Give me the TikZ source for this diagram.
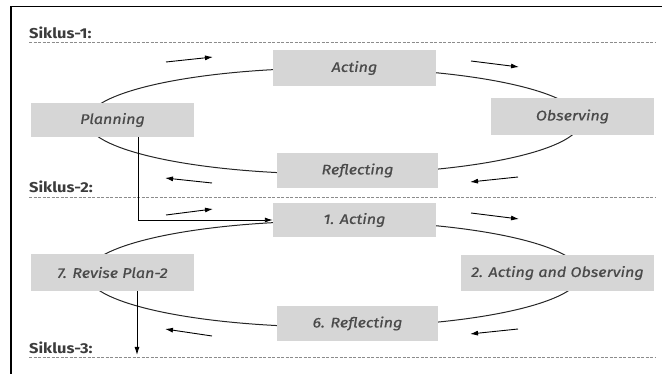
\documentclass[tikz,border=0pt]{standalone}
\usepackage{fontspec}
\setmainfont{Fira Sans}
\newfontfamily\boxfont{Fira Sans}[FakeStretch=1.15, ItalicFeatures={FakeBold=0.7}]
\usetikzlibrary{arrows.meta,calc}
\definecolor{boxgray}{HTML}{D6D6D6}
\definecolor{txtgray}{HTML}{4A4A4A}
\definecolor{labgray}{HTML}{3C3C3C}
\definecolor{dashgray}{HTML}{8C8C8C}
\tikzset{
  box/.style={fill=boxgray, inner sep=0pt, text=txtgray, font=\boxfont\itshape\fontsize{14}{16}\selectfont},
  cyc/.style={line width=1pt, draw=black!85},
  flow/.style={line width=0.9pt, -{Latex[length=8pt,width=5pt]}},
  sep/.style={draw=dashgray, line width=0.8pt, dash pattern=on 3pt off 1.5pt},
  lab/.style={anchor=base west, text=labgray, font=\boxfont\bfseries\fontsize{14.3}{16}\selectfont, inner sep=0pt},
  frame/.style={line width=1.8pt, draw=black}
}
\begin{document}
\begin{tikzpicture}[x=1pt,y=-1pt]
\useasboundingbox (0,0) rectangle (662,374);
% frame
\coordinate (fa) at (11,374);
\coordinate (fb) at (11,6.5);
\coordinate (fc) at (662,6.5);
\draw[frame] (fa) -- (fb) -- (fc);
% separators and labels
\coordinate (d1a) at (29,42);  \coordinate (d1b) at (656,42);
\coordinate (d2a) at (29,197); \coordinate (d2b) at (656,197);
\coordinate (d3a) at (29,357); \coordinate (d3b) at (656,357);
\draw[sep] (d1a) -- (d1b);
\draw[sep] (d2a) -- (d2b);
\draw[sep] (d3a) -- (d3b);
\node[lab] (s1) at (29,38.5) {Siklus-1:};
\node[lab] (s2) at (29,193) {Siklus-2:};
\node[lab] (s3) at (29,353) {Siklus-3:};
% ellipse centres
\coordinate (e1) at (334,121);
\coordinate (e2) at (334,274);
\foreach \c in {e1,e2}{
  \draw[cyc] ($(\c)+(163:247pt and 53pt)$) arc[start angle=163, end angle=100, x radius=247pt, y radius=53pt];
  \draw[cyc] ($(\c)+(70:247pt and 53pt)$) arc[start angle=70, end angle=18, x radius=247pt, y radius=53pt];
  \draw[cyc] ($(\c)+(-12:247pt and 53pt)$) arc[start angle=-12, end angle=-70, x radius=247pt, y radius=53pt];
  \draw[cyc] ($(\c)+(-100:247pt and 53pt)$) arc[start angle=-100, end angle=-165, x radius=247pt, y radius=53pt];
}
% cycle 1 boxes
\node[box, minimum width=163pt, minimum height=34pt] (pl) at (112.5,120) {Planning};
\node[box, minimum width=163pt, minimum height=36pt] (ac) at (354.5,68) {Acting};
\node[box, minimum width=163pt, minimum height=37pt] (ob) at (572.5,116.5) {Observing};
\node[box, minimum width=161pt, minimum height=35pt] (re) at (357.5,170.5) {Reflecting};
% cycle 2 boxes
\node[box, minimum width=163pt, minimum height=34pt] (a1) at (354.5,220) {1. Acting};
\node[box, minimum width=163pt, minimum height=37pt] (rv) at (112.5,272.5) {7. Revise Plan-2};
\node[box, minimum width=193pt, minimum height=36pt] (ao) at (557.5,273) {2. Acting and Observing};
\node[box, minimum width=161pt, minimum height=35pt] (r6) at (357.5,323.5) {6. Reflecting};
% connectors
\draw[flow] ([xshift=25.5pt]pl.south) |- (a1.west);
\coordinate (s3end) at (137,355);
\draw[flow] ([xshift=24.5pt]rv.south) -- (s3end);
% direction arrows, cycle 1
\coordinate (t1a) at (166,62);  \coordinate (t1b) at (213,57);
\coordinate (t2a) at (471,61);  \coordinate (t2b) at (519,67);
\coordinate (t3a) at (518,177); \coordinate (t3b) at (470,182);
\coordinate (t4a) at (212,183); \coordinate (t4b) at (165,178);
% direction arrows, cycle 2
\coordinate (u1a) at (166,215); \coordinate (u1b) at (213,209);
\coordinate (u2a) at (471,213); \coordinate (u2b) at (519,219);
\coordinate (u3a) at (518,329); \coordinate (u3b) at (470,334);
\coordinate (u4a) at (212,336); \coordinate (u4b) at (165,329);
\foreach \p in {t1,t2,t3,t4,u1,u2,u3,u4}{
  \draw[flow] (\p a) -- (\p b);
}
\end{tikzpicture}
\end{document}
